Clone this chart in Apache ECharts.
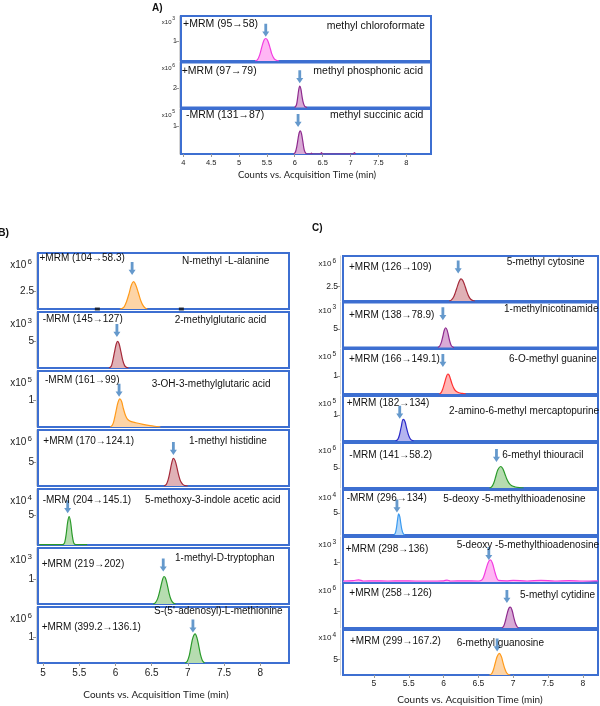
<!DOCTYPE html>
<html><head><meta charset="utf-8">
<script src="https://cdn.jsdelivr.net/npm/echarts@6/dist/echarts.min.js"></script>
<style>html,body{margin:0;padding:0;background:#fff}#c{width:600px;height:706px}</style>
</head><body><div id="c"></div>
<script>
// ================= DATA =================
const xTicksA = [4, 4.5, 5, 5.5, 6, 6.5, 7, 7.5, 8];
const xTicksB = [5, 5.5, 6, 6.5, 7, 7.5, 8];
const xTicksC = [5, 5.5, 6, 6.5, 7, 7.5, 8];
const xTitle = 'Counts vs. Acquisition Time (min)';

const transA = ['+MRM (95→58)', '+MRM (97→79)', '-MRM (131→87)'];
const namesA = ['methyl chloroformate', 'methyl phosphonic acid', 'methyl succinic acid'];
const expA = [3, 6, 5];
const yTickA = [1, 2, 1];
const yMaxA = [2.3, 4.57, 1.61];

const transB = ['+MRM (104→58.3)', '-MRM (145→127)', '-MRM (161→99)', '+MRM (170→124.1)', '-MRM (204→145.1)', '+MRM (219→202)', '+MRM (399.2→136.1)'];
const namesB = ['N-methyl -L-alanine', '2-methylglutaric acid', '3-OH-3-methylglutaric acid', '1-methyl histidine', '5-methoxy-3-indole acetic acid', '1-methyl-D-tryptophan', "S-(5'-adenosyl)-L-methionine"];
const expB = [6, 3, 5, 6, 4, 3, 6];
const yTickB = [2.5, 5, 1, 5, 5, 1, 1];
const yMaxB = [7.8, 10.6, 2.09, 11.8, 9.5, 2.3, 2.21];

const transC = ['+MRM (126→109)', '+MRM (138→78.9)', '+MRM (166→149.1)', '+MRM (182→134)', '-MRM (141→58.2)', '-MRM (296→134)', '+MRM (298→136)', '+MRM (258→126)', '+MRM (299→167.2)'];
const namesC = ['5-methyl cytosine', '1-methylnicotinamide', '6-O-methyl guanine', '2-amino-6-methyl mercaptopurine', '6-methyl thiouracil', '5-deoxy -5-methylthioadenosine', '5-deoxy -5-methylthioadenosine', '5-methyl cytidine', '6-methyl guanosine'];
const expC = [6, 3, 5, 5, 6, 4, 3, 6, 4];
const yTickC = [2.5, 5, 1, 1, 5, 5, 1, 1, 5];
const yMaxC = [7.86, 12, 2.5, 1.73, 11.3, 10.2, 2.28, 2.7, 14.4];

// peak traces [time, counts]
const peakA1 = [[5.29,0],[5.33,0.06],[5.37,0.3],[5.41,0.72],[5.45,1.07],[5.48,1.15],[5.51,1.07],[5.55,0.75],[5.59,0.35],[5.63,0.12],[5.67,0.04],[5.72,0]];
const peakA2 = [[6.00,0],[6.03,0.25],[6.05,0.9],[6.07,1.75],[6.09,2.17],[6.11,1.9],[6.13,1.15],[6.155,0.45],[6.18,0.12],[6.22,0]];
const peakA3 = [[5.98,0],[6.01,0.06],[6.035,0.25],[6.06,0.55],[6.08,0.76],[6.10,0.83],[6.12,0.74],[6.145,0.45],[6.17,0.15],[6.20,0.02],[6.22,0],[6.28,0],[6.30,0.03],[6.32,0],[6.46,0],[6.48,0.05],[6.50,0],[7.05,0],[7.07,0.05],[7.09,0]];

const peakB1 = [[6.06,0],[6.09,0.05],[6.12,0.3],[6.15,0.95],[6.185,2.05],[6.22,3.35],[6.25,3.8],[6.28,3.35],[6.315,2.3],[6.35,1.15],[6.38,0.5],[6.41,0.15],[6.44,0]];
const peakB2 = [[5.91,0],[5.94,0.3],[5.96,1.2],[5.985,2.9],[6.01,4.5],[6.03,5.05],[6.05,4.6],[6.075,3.1],[6.10,1.5],[6.125,0.5],[6.15,0.12],[6.18,0]];
const peakB3 = [[5.93,0],[5.96,0.08],[5.985,0.3],[6.01,0.62],[6.035,0.92],[6.06,1.05],[6.085,0.95],[6.11,0.68],[6.14,0.42],[6.17,0.28],[6.21,0.21],[6.28,0.16],[6.38,0.1],[6.48,0.05],[6.58,0.015],[6.62,0]];
const peakB4 = [[6.67,0],[6.70,0.3],[6.725,1.2],[6.75,2.8],[6.775,4.7],[6.80,5.84],[6.825,5.3],[6.85,3.8],[6.875,2.2],[6.90,1.0],[6.93,0.35],[6.96,0.08],[7.00,0]];
const peakB5 = [[4.95,0.06],[5.25,0.06],[5.28,0.1],[5.30,0.5],[5.32,1.9],[5.34,3.9],[5.36,4.83],[5.38,3.9],[5.40,1.9],[5.42,0.5],[5.44,0.1],[5.47,0.06],[5.61,0.06]];
const peakB6 = [[6.52,0],[6.55,0.05],[6.58,0.2],[6.605,0.45],[6.63,0.76],[6.65,1.0],[6.67,1.13],[6.69,1.07],[6.715,0.8],[6.74,0.45],[6.77,0.16],[6.80,0.04],[6.83,0]];
const peakB7 = [[6.96,0],[6.99,0.06],[7.02,0.3],[7.045,0.68],[7.07,1.0],[7.10,1.15],[7.125,1.0],[7.15,0.68],[7.175,0.32],[7.20,0.1],[7.23,0]];

const peakC1 = [[6.08,0],[6.11,0.15],[6.14,0.6],[6.17,1.5],[6.20,2.6],[6.225,3.45],[6.25,3.87],[6.275,3.6],[6.30,2.9],[6.33,1.8],[6.36,0.85],[6.39,0.3],[6.42,0.08],[6.45,0]];
const peakC2 = [[5.92,0],[5.945,0.4],[5.97,1.5],[5.99,3.0],[6.01,4.6],[6.03,5.27],[6.05,4.7],[6.07,3.2],[6.09,1.6],[6.11,0.55],[6.135,0.1],[6.15,0]];
const peakC3 = [[5.94,0],[5.965,0.08],[5.99,0.3],[6.015,0.62],[6.04,0.95],[6.06,1.11],[6.08,1.05],[6.10,0.82],[6.125,0.52],[6.15,0.3],[6.18,0.15],[6.22,0.07],[6.27,0.03],[6.32,0]];
const peakC4 = [[5.31,0],[5.34,0.05],[5.365,0.22],[5.39,0.52],[5.42,0.83],[5.445,0.75],[5.47,0.48],[5.50,0.2],[5.53,0.05],[5.57,0]];
const peakC5 = [[6.66,0],[6.69,0.3],[6.72,1.2],[6.75,2.9],[6.78,4.6],[6.82,5.4],[6.85,4.9],[6.88,3.6],[6.91,2.2],[6.94,1.2],[6.98,0.55],[7.03,0.25],[7.09,0.08],[7.15,0]];
const peakC6 = [[5.29,0],[5.31,0.6],[5.325,1.8],[5.34,3.6],[5.355,4.77],[5.37,4.2],[5.385,2.7],[5.40,1.3],[5.42,0.35],[5.44,0]];
const peakC7 = [[4.56,0.05],[4.70,0.07],[4.78,0.11],[4.85,0.05],[5.00,0.06],[5.20,0.05],[5.40,0.06],[5.60,0.05],[5.80,0.05],[6.00,0.06],[6.05,0.1],[6.10,0.05],[6.30,0.06],[6.50,0.05],[6.55,0.1],[6.58,0.3],[6.61,0.65],[6.64,0.98],[6.67,1.12],[6.70,0.98],[6.73,0.6],[6.76,0.25],[6.79,0.08],[6.90,0.06],[7.00,0.08],[7.20,0.05],[7.40,0.08],[7.60,0.05],[7.80,0.07],[8.00,0.05],[8.22,0.06]];
const peakC8 = [[6.84,0],[6.865,0.12],[6.89,0.45],[6.915,0.88],[6.94,1.2],[6.96,1.25],[6.985,1.05],[7.01,0.62],[7.035,0.25],[7.06,0.06],[7.08,0]];
const peakC9 = [[6.66,0],[6.69,0.4],[6.715,1.6],[6.74,3.6],[6.77,5.9],[6.80,6.9],[6.83,5.9],[6.855,3.9],[6.88,2.0],[6.905,0.7],[6.93,0.15],[6.96,0]];

// arrow tips [time, counts]
const arrowsA = [[5.48,1.24],[6.09,2.46],[6.06,0.97]];
const arrowsB = [[6.23,4.74],[6.02,5.87],[6.05,1.13],[6.80,6.53],[5.34,5.38],[6.66,1.33],[7.07,1.20]];
const arrowsC = [[6.21,4.80],[5.99,7.28],[5.99,1.50],[5.37,0.86],[6.76,6.55],[5.33,5.09],[6.65,1.11],[6.91,1.50],[6.77,7.54]];
// small black markers on the N-methyl-L-alanine baseline
const markersB1 = [[5.75,0],[6.91,0]];

// ================= STYLE / LAYOUT =================
const COL = {
  magenta: ['#f23ee0', '#ffb6f4'],
  purple: ['#8e2a8e', '#d9aad6'],
  orange: ['#ff9a1a', '#fdd4a6'],
  darkred: ['#a52a3a', '#e0b1b6'],
  green: ['#2a9a2a', '#b6dcb0'],
  red: ['#ff3030', '#ffb6b6'],
  blue: ['#2a2ac8', '#b4b4ef'],
  lblue: ['#3a9af0', '#b4d7f8']
};
const BORDER = '#3d6fd1';
const ARROW = '#3f7fbf';
const FONT = '"Liberation Sans", Arial, sans-serif';

const panels = [
  { key:'A', left:181, width:250, tops:[16,62.5,109], height:45, xMin:3.96, xMax:8.444, xTicks:xTicksA,
    trans:transA, names:namesA, exp:expA, yTick:yTickA, yMax:yMaxA,
    peaks:[peakA1,peakA2,peakA3], arrows:arrowsA, colors:['magenta','purple','purple'],
    transPos:[[183,25.3],[181.7,71.7],[186,115.7]], namePos:[[326.7,26.7],[313.3,71.7],[330,115.7]],
    txtSize:10.5, tickSize:7, xLabSize:7.5, xLabMargin:5, expOff:[6,3], expFont:[6,5], yOffset:2,
    title:[307,175], titleSize:9.5 },
  { key:'B', left:38, width:251, tops:[253,312,371,430,489,548,607], height:56, xMin:4.93, xMax:8.397, xTicks:xTicksB,
    trans:transB, names:namesB, exp:expB, yTick:yTickB, yMax:yMaxB,
    peaks:[peakB1,peakB2,peakB3,peakB4,peakB5,peakB6,peakB7], arrows:arrowsB,
    colors:['orange','darkred','orange','darkred','green','green','green'],
    transPos:[[39.5,259],[42.7,320.7],[45,381],[43.3,442.7],[42.7,501.7],[41.7,565],[41.7,628]],
    namePos:[[182,262.7],[174.7,321],[151.7,385],[189,442],[145,501],[175,559],[154,612.7]],
    txtSize:10, tickSize:10, xLabSize:10, xLabMargin:5, expOff:[12.5,9], expFont:[10,8], yOffset:2,
    title:[156,695], titleSize:10 },
  { key:'C', left:343, width:255, tops:[256,302.5,349,396,443,490,537,583,630], height:45, xMin:4.555, xMax:8.219, xTicks:xTicksC,
    trans:transC, names:namesC, exp:expC, yTick:yTickC, yMax:yMaxC,
    peaks:[peakC1,peakC2,peakC3,peakC4,peakC5,peakC6,peakC7,peakC8,peakC9], arrows:arrowsC,
    colors:['darkred','purple','red','blue','green','lblue','magenta','purple','orange'],
    transPos:[[349,268.3],[349,316],[349,360],[346.7,404.3],[349.3,456.7],[346.7,499.3],[345.7,550.7],[349.3,594.3],[350,642.7]],
    namePos:[[506.7,263.3],[504,310],[509,360],[449,412.3],[502.3,456.7],[443.3,500.7],[456.7,546.7],[520,596],[456.7,644.3]],
    txtSize:10, tickSize:8.5, xLabSize:8.5, xLabMargin:4, expOff:[8,5], expFont:[8,6.5], yOffset:3,
    title:[470,700], titleSize:10 }
];

const grids = [], xAxes = [], yAxes = [], series = [], graphics = [];
let gi = 0;
panels.forEach(p => {
  const n = p.tops.length;
  for (let i = 0; i < n; i++) {
    const top = p.tops[i];
    const last = i === n - 1;
    grids.push({ left: p.left, top: top, width: p.width, height: p.height, show: true,
      borderColor: BORDER, borderWidth: 2, backgroundColor: 'transparent', containLabel: false });
    xAxes.push({ gridIndex: gi, type: 'value', min: p.xMin, max: p.xMax,
      axisLine: { show: false }, splitLine: { show: false },
      axisTick: { show: last, customValues: p.xTicks, length: 3, lineStyle: { color: '#999' } },
      axisLabel: { show: last, customValues: p.xTicks, fontSize: p.xLabSize, color: '#222', margin: p.xLabMargin, fontFamily: FONT } });
    yAxes.push({ gridIndex: gi, type: 'value', min: 0, max: p.yMax[i], offset: p.yOffset,
      axisLine: { show: true, lineStyle: { color: '#d4d4d4', width: 1 } }, splitLine: { show: false },
      axisTick: { show: true, customValues: [p.yTick[i]], length: 3, lineStyle: { color: '#999' } },
      axisLabel: { customValues: [p.yTick[i]], fontSize: p.tickSize, color: '#222', margin: 2, fontFamily: FONT } });
    const c = COL[p.colors[i]];
    series.push({ type: 'line', xAxisIndex: gi, yAxisIndex: gi, data: p.peaks[i], smooth: 0.35,
      symbol: 'none', lineStyle: { color: c[0], width: 1.2 }, areaStyle: { color: c[1], opacity: 1, origin: 'start' }, z: 3 });
    series.push({ type: 'scatter', xAxisIndex: gi, yAxisIndex: gi, data: [p.arrows[i]],
      symbol: 'path://M3,0 L7,0 L7,9 L10,9 L5,15 L0,9 L3,9 Z', symbolSize: [7, 13], symbolOffset: [0, '-50%'],
      itemStyle: { color: ARROW }, z: 5, silent: true });
    if (p.key === 'B' && i === 0) {
      series.push({ type: 'scatter', xAxisIndex: gi, yAxisIndex: gi, data: markersB1,
        symbol: 'rect', symbolSize: [5, 3], itemStyle: { color: '#111' }, z: 6 });
    }
    graphics.push({ type: 'text', left: p.transPos[i][0], top: p.transPos[i][1] - p.txtSize * 0.6,
      style: { text: p.trans[i], fontSize: p.txtSize, fill: '#111', fontFamily: FONT }, z: 10 });
    graphics.push({ type: 'text', left: p.namePos[i][0], top: p.namePos[i][1] - p.txtSize * 0.6,
      style: { text: p.names[i], fontSize: p.txtSize, fill: '#111', fontFamily: FONT }, z: 10 });
    const xr = p.left - p.yOffset - 4;
    graphics.push({ type: 'text', x: xr - p.expFont[1] * 0.7, y: top + p.expOff[0],
      style: { text: 'x10', fontSize: p.expFont[0], fill: '#222', fontFamily: FONT, align: 'right', verticalAlign: 'middle' }, z: 10 });
    graphics.push({ type: 'text', x: xr, y: top + p.expOff[1],
      style: { text: String(p.exp[i]), fontSize: p.expFont[1], fill: '#222', fontFamily: FONT, align: 'right', verticalAlign: 'middle' }, z: 10 });
    gi++;
  }
  graphics.push({ type: 'text', x: p.title[0], y: p.title[1],
    style: { text: xTitle, fontSize: p.titleSize, fill: '#222', fontFamily: 'Lato, "Open Sans", sans-serif', align: 'center', verticalAlign: 'middle' } });
});
graphics.push({ type: 'text', x: 152, y: 8, style: { text: 'A)', fontSize: 10, fontWeight: 'bold', fill: '#111', fontFamily: FONT, verticalAlign: 'middle' } });
graphics.push({ type: 'text', x: -2, y: 233, style: { text: 'B)', fontSize: 10.5, fontWeight: 'bold', fill: '#111', fontFamily: FONT, verticalAlign: 'middle' } });
graphics.push({ type: 'text', x: 312, y: 228, style: { text: 'C)', fontSize: 10, fontWeight: 'bold', fill: '#111', fontFamily: FONT, verticalAlign: 'middle' } });

const chart = echarts.init(document.getElementById('c'), null, { renderer: 'canvas' });
chart.setOption({
  animation: false,
  backgroundColor: '#fff',
  grid: grids, xAxis: xAxes, yAxis: yAxes, series: series, graphic: graphics
});
</script></body></html>
